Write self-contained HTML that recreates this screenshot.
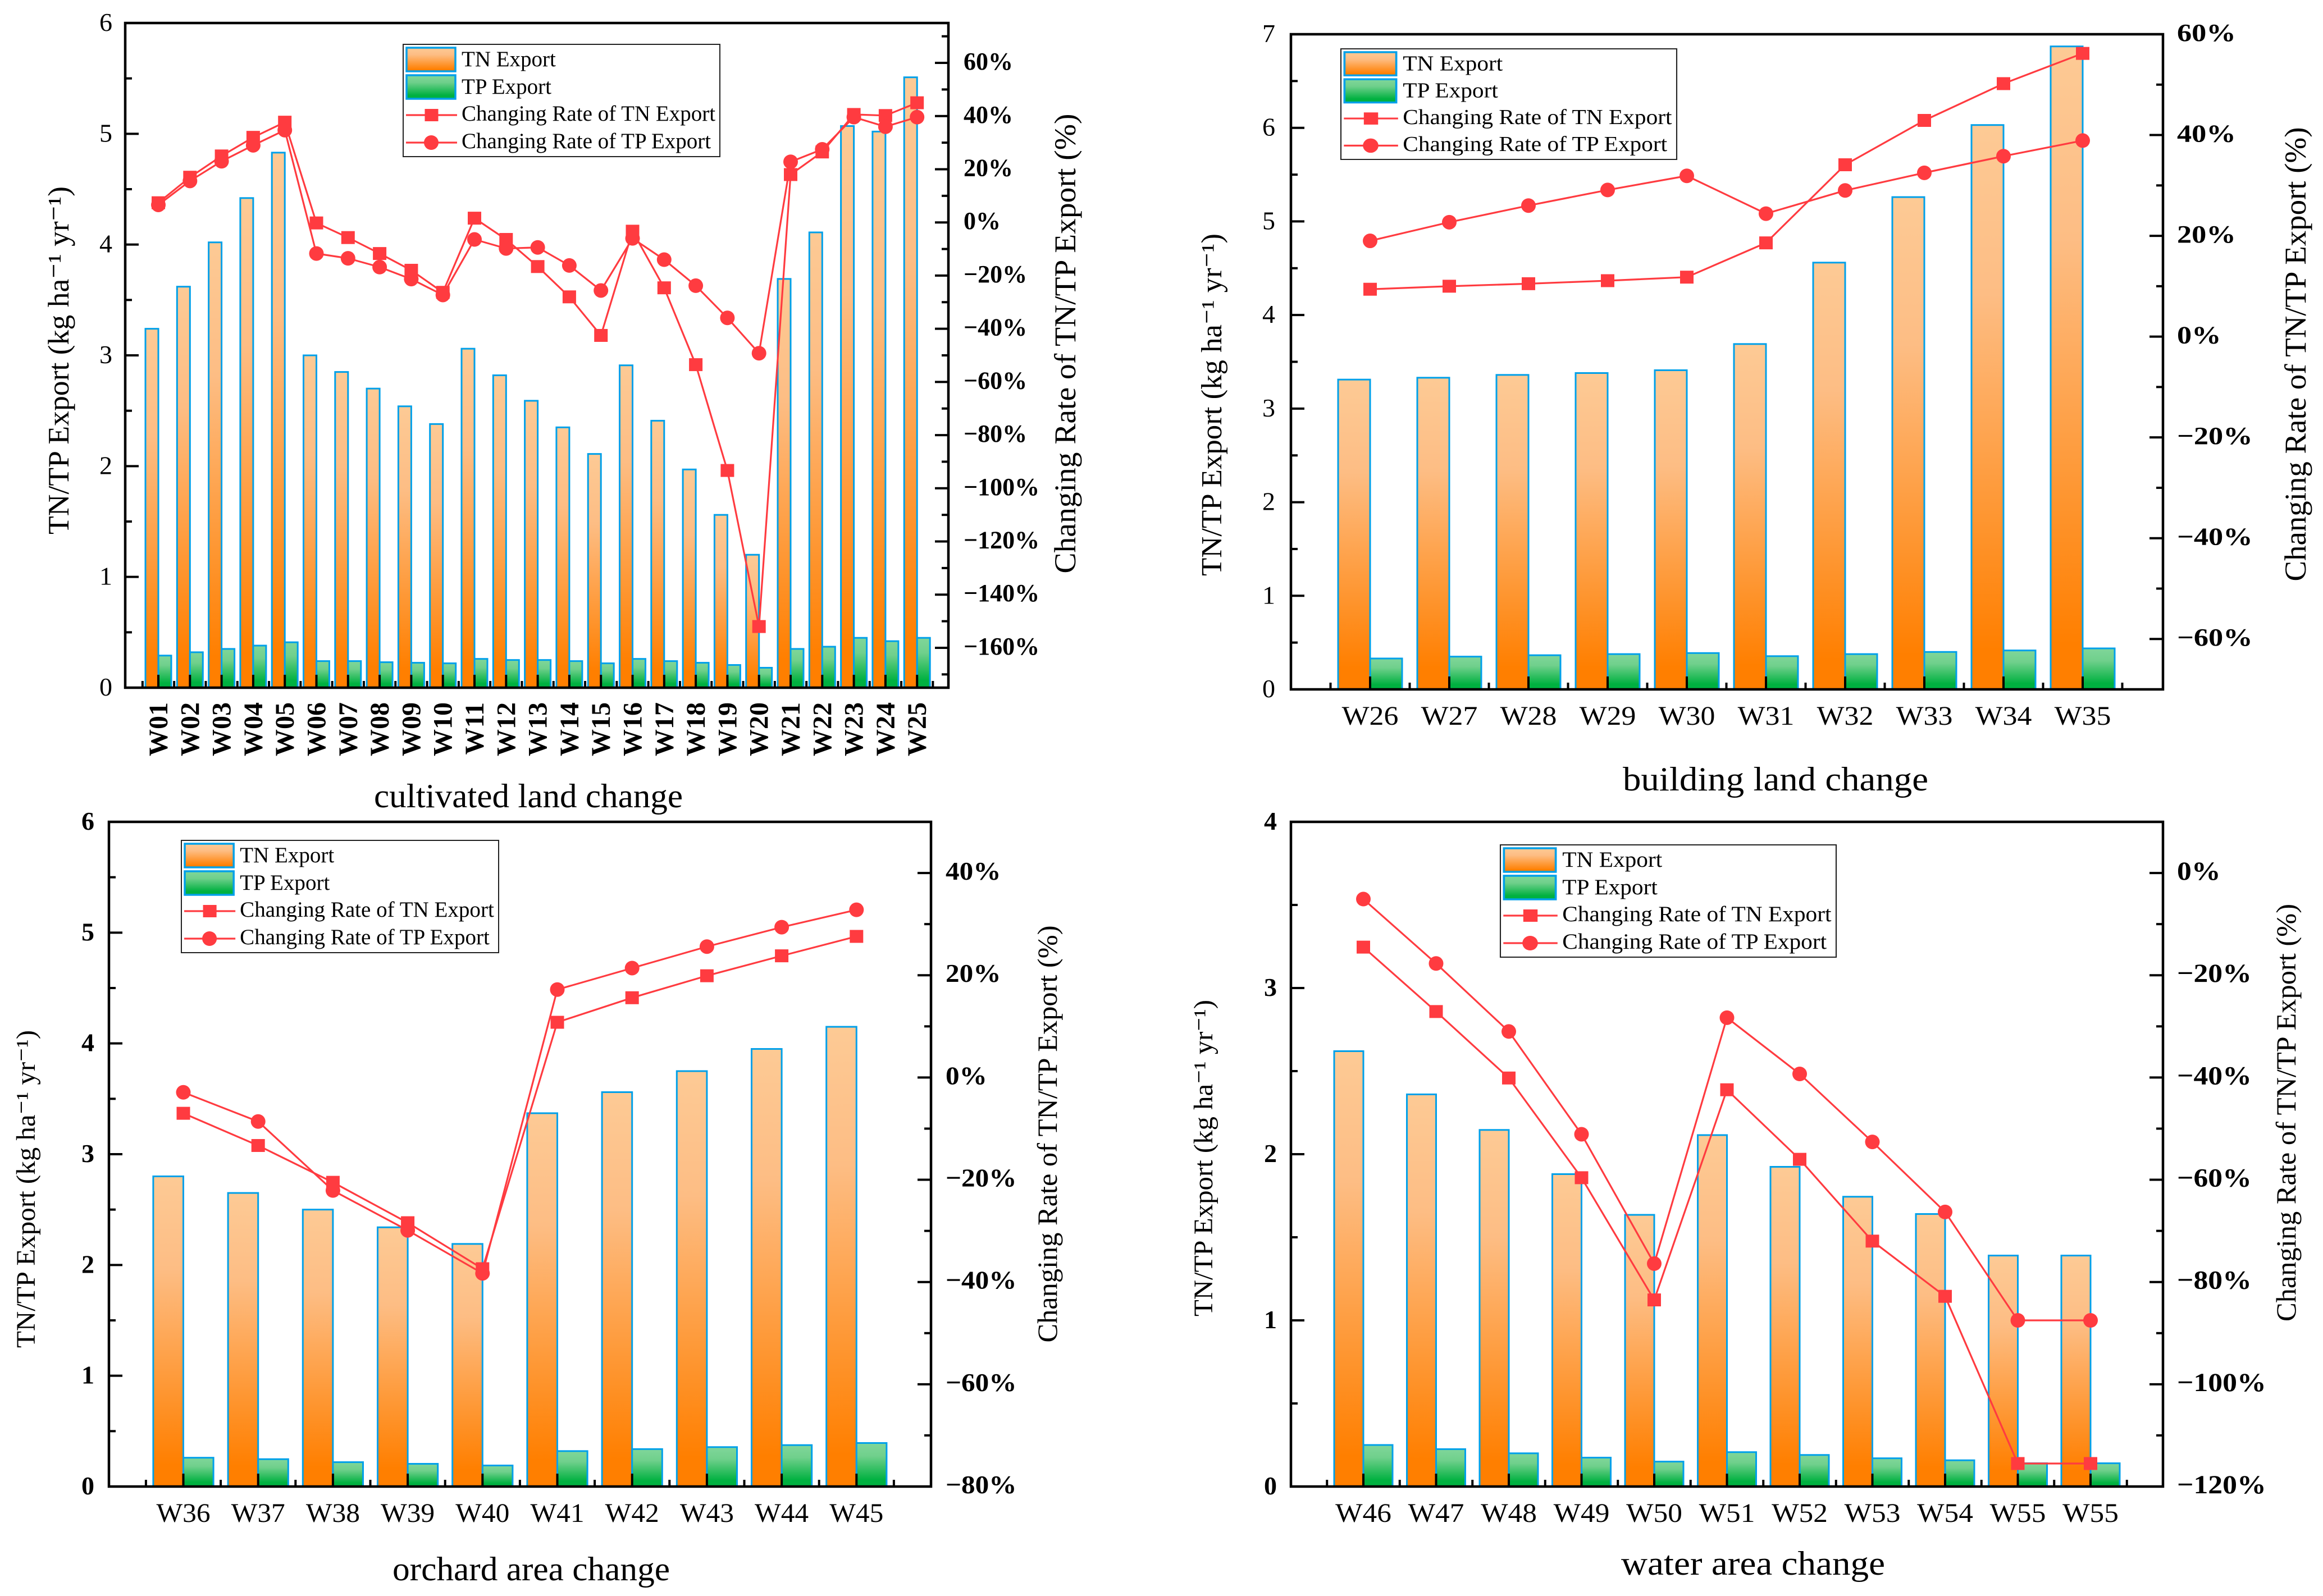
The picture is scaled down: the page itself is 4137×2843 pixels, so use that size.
<!DOCTYPE html>
<html>
<head>
<meta charset="utf-8">
<title>TN/TP Export by land use change</title>
<style>
html,body{margin:0;padding:0;background:#fff;}
svg{display:block;font-family:"Liberation Serif",serif;}
</style>
</head>
<body>
<svg id="figure" xmlns="http://www.w3.org/2000/svg" width="4137" height="2843" viewBox="0 0 4137 2843">
<defs>
<linearGradient id="gradTN" x1="0" y1="0" x2="0" y2="1">
<stop offset="0" stop-color="#fdca95"/><stop offset="0.3" stop-color="#fdbd84"/><stop offset="0.93" stop-color="#ff7f00"/><stop offset="1" stop-color="#ff7f00"/>
</linearGradient>
<linearGradient id="gradTP" x1="0" y1="0" x2="0" y2="1">
<stop offset="0" stop-color="#80d69a"/><stop offset="0.3" stop-color="#70d08c"/><stop offset="0.85" stop-color="#00b140"/><stop offset="1" stop-color="#00b140"/>
</linearGradient>
</defs>
</svg>
<script>
// ---------- Panel 1: cultivated land change ----------
const cultivatedCategories = ["W01","W02","W03","W04","W05","W06","W07","W08","W09","W10","W11","W12","W13","W14","W15","W16","W17","W18","W19","W20","W21","W22","W23","W24","W25"];
const cultivatedTN = [3.24,3.62,4.02,4.42,4.83,3.00,2.85,2.70,2.54,2.38,3.06,2.82,2.59,2.35,2.11,2.91,2.41,1.97,1.56,1.20,3.69,4.11,5.07,5.02,5.51];
const cultivatedTP = [0.29,0.32,0.35,0.38,0.41,0.24,0.24,0.23,0.225,0.22,0.26,0.25,0.25,0.24,0.22,0.26,0.24,0.225,0.205,0.18,0.35,0.37,0.45,0.42,0.45];
const cultivatedRateTN = [7.4,17,25,32,37.7,-0.2,-5.7,-11.7,-18,-26.3,1.6,-6.4,-16.6,-28,-42.5,-3.3,-24.6,-53.5,-93.3,-152,18,26.5,40.6,40.2,45];
const cultivatedRateTP = [6.6,15.6,23,29,34.7,-11.7,-13.5,-16.8,-21.3,-27.3,-6.4,-9.8,-9.4,-16.2,-25.6,-6,-14,-23.8,-35.9,-49.2,22.8,27.5,39.6,36,39.6];
const cultivatedLeftTicks = [0,1,2,3,4,5,6];
const cultivatedRightTicks = [60,40,20,0,-20,-40,-60,-80,-100,-120,-140,-160];

// ---------- Panel 2: building land change ----------
const buildingCategories = ["W26","W27","W28","W29","W30","W31","W32","W33","W34","W35"];
const buildingTN = [3.31,3.33,3.36,3.38,3.41,3.69,4.56,5.26,6.03,6.87];
const buildingTP = [0.33,0.35,0.365,0.377,0.388,0.355,0.377,0.40,0.416,0.438];
const buildingRateTN = [9.4,10,10.5,11.1,11.8,18.6,34.1,42.9,50.2,56.2];
const buildingRateTP = [19,22.7,26,29.1,31.9,24.4,29,32.5,35.8,38.9];
const buildingLeftTicks = [0,1,2,3,4,5,6,7];
const buildingRightTicks = [60,40,20,0,-20,-40,-60];

// ---------- Panel 3: orchard area change ----------
const orchardCategories = ["W36","W37","W38","W39","W40","W41","W42","W43","W44","W45"];
const orchardTN = [2.80,2.65,2.50,2.34,2.19,3.37,3.56,3.75,3.95,4.15];
const orchardTP = [0.26,0.247,0.22,0.205,0.19,0.32,0.338,0.356,0.374,0.393];
const orchardRateTN = [-7,-13.3,-20.5,-28.4,-37.4,10.8,15.6,19.9,23.8,27.6];
const orchardRateTP = [-2.9,-8.6,-22.1,-29.9,-38.3,17.2,21.4,25.6,29.4,32.8];
const orchardLeftTicks = [0,1,2,3,4,5,6];
const orchardRightTicks = [40,20,0,-20,-40,-60,-80];

// ---------- Panel 4: water area change ----------
const waterCategories = ["W46","W47","W48","W49","W50","W51","W52","W53","W54","W55","W55"];
const waterTN = [2.62,2.36,2.146,1.88,1.635,2.115,1.924,1.744,1.64,1.39,1.39];
const waterTP = [0.25,0.225,0.2,0.174,0.15,0.207,0.19,0.17,0.158,0.14,0.14];
const waterRateTN = [-14.5,-27.1,-40.1,-59.6,-83.5,-42.4,-56,-72,-82.8,-115.5,-115.5];
const waterRateTP = [-5.1,-17.7,-31,-51.1,-76.4,-28.3,-39.3,-52.6,-66.3,-87.5,-87.5];
const waterLeftTicks = [0,1,2,3,4];
const waterRightTicks = [0,-20,-40,-60,-80,-100,-120];

const legendLabels = ["TN Export","TP Export","Changing Rate of TN Export","Changing Rate of TP Export"];
const leftAxisTitle = "TN/TP Export (kg ha\u207B\u00B9 yr\u207B\u00B9)";
const rightAxisTitle = "Changing Rate of TN/TP Export (%)";

const NS = "http://www.w3.org/2000/svg";
const root = document.getElementById("figure");
const RED = "#ff3b40", BLUE = "#00a0e9";

function mk(tag, attrs, parent) {
  const e = document.createElementNS(NS, tag);
  for (const k in attrs) e.setAttribute(k, attrs[k]);
  parent.appendChild(e);
  return e;
}
function label(str, x, y, size, bold, anchor, sx, parent) {
  const e = mk("text", {
    transform: "translate(" + x + "," + y + ") scale(" + sx + ",1)",
    "font-size": size, "font-weight": bold ? "bold" : "normal",
    "text-anchor": anchor, fill: "#000"
  }, parent);
  e.textContent = str;
  return e;
}
function vtitle(str, x, cy, size, len, parent) {
  const e = mk("text", {
    transform: "translate(" + x + "," + cy + ") rotate(-90)",
    "font-size": size, "text-anchor": "middle", fill: "#000",
    textLength: len, lengthAdjust: "spacingAndGlyphs"
  }, parent);
  e.textContent = str;
  return e;
}

function drawPanel(p) {
  const g = mk("g", {}, root);
  
  

  const xPos = i => p.c0 + p.step * i;
  const yLeft = v => p.B - (v / p.yMax) * (p.B - p.T);
  const yRight = v => p.B - ((v - p.rMin) / (p.rMax - p.rMin)) * (p.B - p.T);

  // bars
  p.cats.forEach((c, i) => {
    const cx = xPos(i);
    const b1 = mk("rect", {x: cx - p.bw, y: yLeft(p.tn[i]), width: p.bw, height: p.B - yLeft(p.tn[i]), fill: "url(#gradTN)", stroke: BLUE, "stroke-width": 3}, g);
    
    
    const b2 = mk("rect", {x: cx, y: yLeft(p.tp[i]), width: p.bw, height: p.B - yLeft(p.tp[i]), fill: "url(#gradTP)", stroke: BLUE, "stroke-width": 3}, g);
    
    
  });

  // frame
  const frame = mk("rect", {x: p.L, y: p.T, width: p.R - p.L, height: p.B - p.T, fill: "none", stroke: "#000", "stroke-width": 4.5}, g);
  
  

  // ticks helper
  const axes = mk("g", {stroke: "#000", "stroke-width": 4}, g);
  
  

  // x ticks
  p.cats.forEach((c, i) => {
    mk("line", {x1: xPos(i), x2: xPos(i), y1: p.B, y2: p.B - 23}, axes);
  });
  for (let i = 0; i <= p.cats.length; i++) {
    const x = xPos(i) - p.step / 2;
    mk("line", {x1: x, x2: x, y1: p.B, y2: p.B - 12}, axes);
  }
  // x labels
  p.cats.forEach((c, i) => {
    let t;
    if (p.rotX) {
      t = mk("text", {transform: "translate(" + (xPos(i) + 16) + "," + p.xBase + ") rotate(-90)", "font-size": 48, "font-weight": "bold", "text-anchor": "end", fill: "#000"}, g);
      t.textContent = c;
    } else {
      t = label(c, xPos(i), p.xBase, 48, false, "middle", p.xSx, g);
    }
    
    
  });

  // left ticks
  p.leftTicks.forEach(v => {
    const y = yLeft(v);
    mk("line", {x1: p.L, x2: p.L + 24, y1: y, y2: y}, axes);
    if (v < p.yMax) mk("line", {x1: p.L, x2: p.L + 12, y1: yLeft(v + 0.5), y2: yLeft(v + 0.5)}, axes);
    const t = label(String(v), p.leftRight, y + 14, 46, p.leftBold, "end", 1, g);
    
    
  });

  // right ticks
  for (let v = p.rMax; v >= p.rMin; v -= 5) {
    if (v % 10 !== 0) continue;
    const y = yRight(v);
    if (v % 20 === 0) mk("line", {x1: p.R, x2: p.R - 24, y1: y, y2: y}, axes);
    else mk("line", {x1: p.R, x2: p.R - 12, y1: y, y2: y}, axes);
  }
  p.rightTicks.forEach(v => {
    const y = yRight(v);
    const s = (v < 0 ? "\u2212" + (-v) : String(v)) + "%";
    const t = label(s, p.rightLeft, y + 12, p.rSize, true, "start", p.rSx, g);
    
    
  });

  // lines & markers
  function series(vals, kind) {
    const pts = vals.map((v, i) => xPos(i) + "," + yRight(v)).join(" ");
    const line = mk("polyline", {points: pts, fill: "none", stroke: RED, "stroke-width": 3.2, "stroke-linejoin": "round"}, g);
    
    
    vals.forEach((v, i) => {
      const cx = xPos(i), cy = yRight(v);
      let m;
      if (kind === "tn") m = mk("rect", {x: cx - 12, y: cy - 11.5, width: 24, height: 23, fill: RED}, g);
      else m = mk("ellipse", {cx: cx, cy: cy, rx: 13, ry: 13, fill: RED}, g);
      
      
    });
  }
  series(p.rateTN, "tn");
  series(p.rateTP, "tp");

  // titles
  const lt = vtitle(leftAxisTitle, p.ltX, p.ltCy, p.ltSize, p.ltLen, g);
  
  
  const rt = vtitle(rightAxisTitle, p.rtX, p.rtCy, p.rtSize, p.rtLen, g);
  
  
  const bt = mk("text", {x: p.btCx, y: p.btY, "font-size": 60, "text-anchor": "middle", fill: "#000", textLength: p.btLen, lengthAdjust: "spacingAndGlyphs"}, g);
  bt.textContent = p.title;
  
  

  // legend
  const lg = mk("g", {transform: "translate(" + p.lg[0] + "," + p.lg[1] + ") scale(" + (p.lg[2] / 564) + "," + (p.lg[3] / 200) + ")"}, g);
  
  
  mk("rect", {x: 0, y: 0, width: 564, height: 200, fill: "#fff", stroke: "#222", "stroke-width": 2}, lg);
  mk("rect", {x: 6, y: 6, width: 87, height: 42, fill: "url(#gradTN)", stroke: BLUE, "stroke-width": 3.5}, lg);
  mk("rect", {x: 6, y: 55, width: 87, height: 42, fill: "url(#gradTP)", stroke: BLUE, "stroke-width": 3.5}, lg);
  mk("line", {x1: 5, x2: 96, y1: 126, y2: 126, stroke: RED, "stroke-width": 3.2}, lg);
  mk("line", {x1: 5, x2: 96, y1: 175, y2: 175, stroke: RED, "stroke-width": 3.2}, lg);
  mk("rect", {x: 38.5, y: 115, width: 24, height: 22, fill: RED}, lg);
  mk("ellipse", {cx: 50, cy: 175, rx: 13, ry: 13, fill: RED}, lg);
  const ly = [39, 88, 136, 185];
  legendLabels.forEach((s, i) => {
    const t = mk("text", {x: 104, y: ly[i], "font-size": 39, fill: "#000"}, lg);
    t.textContent = s;
    
    
  });
}

drawPanel({
  name: "cultivated-land", title: "cultivated land change",
  cats: cultivatedCategories, tn: cultivatedTN, tp: cultivatedTP, rateTN: cultivatedRateTN, rateTP: cultivatedRateTP,
  leftTicks: cultivatedLeftTicks, rightTicks: cultivatedRightTicks,
  L: 223, R: 1689, T: 41, B: 1225, yMax: 6, rMin: -175, rMax: 75,
  c0: 282, step: 56.3, bw: 23, rotX: true, xBase: 1251, xSx: 1,
  leftRight: 200, leftBold: false, rightLeft: 1716, rSize: 44, rSx: 1,
  ltX: 122, ltCy: 642, ltSize: 53, ltLen: 620, rtX: 1915, rtCy: 612, rtSize: 54, rtLen: 819,
  btCx: 941, btY: 1438, btLen: 550, lg: [718, 79, 564, 200]
});
drawPanel({
  name: "building-land", title: "building land change",
  cats: buildingCategories, tn: buildingTN, tp: buildingTP, rateTN: buildingRateTN, rateTP: buildingRateTP,
  leftTicks: buildingLeftTicks, rightTicks: buildingRightTicks,
  L: 2299, R: 3852, T: 61, B: 1228, yMax: 7, rMin: -70, rMax: 60,
  c0: 2440, step: 141, bw: 57, rotX: false, xBase: 1291, xSx: 1.08,
  leftRight: 2271, leftBold: false, rightLeft: 3877, rSize: 44, rSx: 1.19,
  ltX: 2175, ltCy: 721, ltSize: 52, ltLen: 610, rtX: 4106, rtCy: 631, rtSize: 54, rtLen: 809,
  btCx: 3162, btY: 1408, btLen: 544, lg: [2388, 87, 598, 197]
});
drawPanel({
  name: "orchard-area", title: "orchard area change",
  cats: orchardCategories, tn: orchardTN, tp: orchardTP, rateTN: orchardRateTN, rateTP: orchardRateTP,
  leftTicks: orchardLeftTicks, rightTicks: orchardRightTicks,
  L: 194, R: 1658, T: 1464, B: 2648, yMax: 6, rMin: -80, rMax: 50,
  c0: 326.5, step: 133.2, bw: 53.6, rotX: false, xBase: 2711, xSx: 1.03,
  leftRight: 168, leftBold: true, rightLeft: 1684, rSize: 46, rSx: 1.07,
  ltX: 62, ltCy: 2118, ltSize: 48, ltLen: 566, rtX: 1882, rtCy: 2020, rtSize: 50, rtLen: 743,
  btCx: 946, btY: 2815, btLen: 494, lg: [323, 1497, 565, 200]
});
drawPanel({
  name: "water-area", title: "water area change",
  cats: waterCategories, tn: waterTN, tp: waterTP, rateTN: waterRateTN, rateTP: waterRateTP,
  leftTicks: waterLeftTicks, rightTicks: waterRightTicks,
  L: 2299, R: 3852, T: 1464, B: 2648, yMax: 4, rMin: -120, rMax: 10,
  c0: 2428, step: 129.5, bw: 52, rotX: false, xBase: 2711, xSx: 1.07,
  leftRight: 2274, leftBold: true, rightLeft: 3877, rSize: 47, rSx: 1.1,
  ltX: 2159, ltCy: 2063, ltSize: 48, ltLen: 564, rtX: 4088, rtCy: 1982, rtSize: 50, rtLen: 744,
  btCx: 3122, btY: 2805, btLen: 470, lg: [2672, 1505, 598, 200]
});
</script>
</body>
</html>
